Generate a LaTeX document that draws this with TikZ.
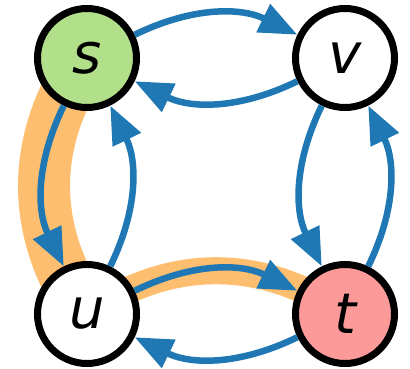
\documentclass[tikz,border=0pt]{standalone}
\usepackage{fontspec}
\setmainfont{DejaVu Sans}
\usetikzlibrary{arrows.meta}
\definecolor{eblue}{HTML}{1F78B4}
\definecolor{hlorange}{HTML}{FDBF6F}
\definecolor{sgreen}{HTML}{B2DF8A}
\definecolor{tred}{HTML}{FB9A99}
\begin{document}
\begin{tikzpicture}[x=1pt,y=1pt,
  vert/.style={circle, draw=black, line width=7pt, minimum size=99pt, inner sep=0pt,
    font=\fontsize{56}{60}\selectfont\itshape},
  edge/.style={draw=eblue, line width=6.5pt, -{Triangle[length=38pt,width=30pt]}},
  hl/.style={draw=hlorange}]
\useasboundingbox (0,0) rectangle (410,368);
\coordinate (ps) at (87,310);
\coordinate (pv) at (345,310);
\coordinate (pu) at (87,54);
\coordinate (pt) at (345,54);
% highlighted path
\draw[hl, line width=52pt] (ps) to[bend right=35] (pu);
\draw[hl, line width=27pt] (pu) to[bend left=35] (pt);
% vertices
\node[vert, fill=sgreen] (s) at (ps) {s};
\node[vert, fill=white] (v) at (pv) {v};
\node[vert, fill=white] (u) at (pu) {u};
\node[vert, fill=tred] (t) at (pt) {t};
% edges
\draw[edge] (s) to[bend left=26] (v);
\draw[edge] (v) to[bend left=26] (s);
\draw[edge] (s) to[bend right=26] (u);
\draw[edge] (u) to[bend right=26] (s);
\draw[edge] (v) to[bend right=26] (t);
\draw[edge] (t) to[bend right=26] (v);
\draw[edge] (u) to[bend left=26] (t);
\draw[edge] (t) to[bend left=26] (u);
\end{tikzpicture}
\end{document}
